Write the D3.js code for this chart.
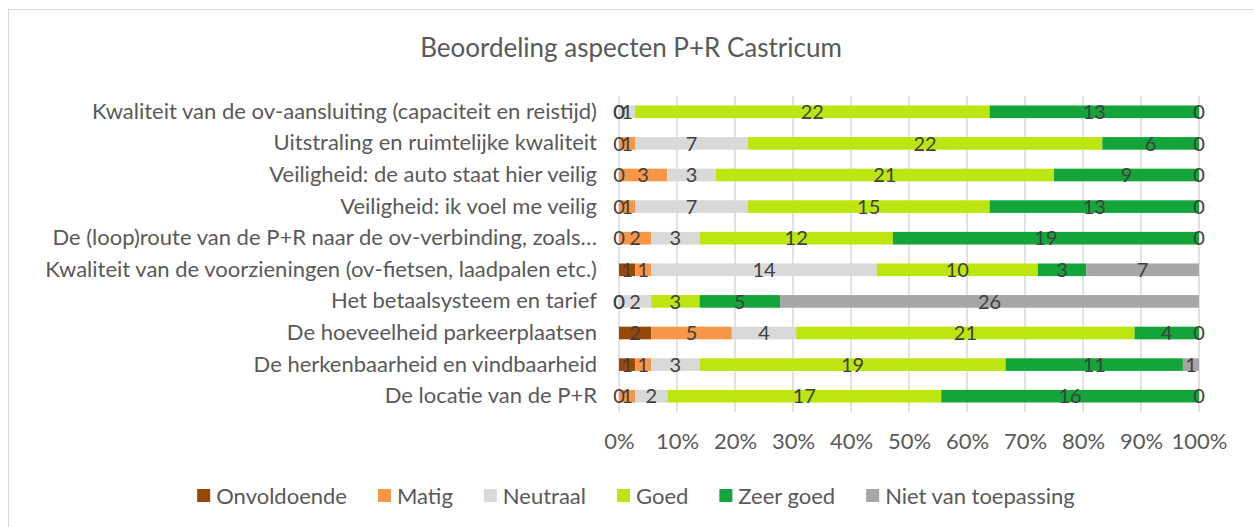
<!DOCTYPE html>
<html>
<head>
<meta charset="utf-8">
<script src="https://cdn.jsdelivr.net/npm/d3@7"></script>
<style>
  body { margin: 0; background: #fff; }
  text { font-family: Lato, "Open Sans", sans-serif; }
</style>
</head>
<body>
<div id="chart"></div>
<script>
// rows, top to bottom
const categories = [
  "Kwaliteit van de ov-aansluiting (capaciteit en reistijd)",
  "Uitstraling en ruimtelijke kwaliteit",
  "Veiligheid: de auto staat hier veilig",
  "Veiligheid: ik voel me veilig",
  "De (loop)route van de P+R naar de ov-verbinding, zoals\u2026",
  "Kwaliteit van de voorzieningen (ov-fietsen, laadpalen etc.)",
  "Het betaalsysteem en tarief",
  "De hoeveelheid parkeerplaatsen",
  "De herkenbaarheid en vindbaarheid",
  "De locatie van de P+R"
];
const onvoldoende = [0, 0, 0, 0, 0, 1, 0, 2, 1, 0];
const matig = [0, 1, 3, 1, 2, 1, 0, 5, 1, 1];
const neutraal = [1, 7, 3, 7, 3, 14, 2, 4, 3, 2];
const goed = [22, 22, 21, 15, 12, 10, 3, 21, 19, 17];
const zeerGoed = [13, 6, 9, 13, 19, 3, 5, 4, 11, 16];
const nietVanToepassing = [0, 0, 0, 0, 0, 7, 26, 0, 1, 0];

const seriesNames = ["Onvoldoende", "Matig", "Neutraal", "Goed", "Zeer goed", "Niet van toepassing"];
const seriesValues = [onvoldoende, matig, neutraal, goed, zeerGoed, nietVanToepassing];
const xTicks = [0, 0.1, 0.2, 0.3, 0.4, 0.5, 0.6, 0.7, 0.8, 0.9, 1];
const title = "Beoordeling aspecten P+R Castricum";

const colors = {
  "Onvoldoende": "#974706",
  "Matig": "#f79646",
  "Neutraal": "#d9d9d9",
  "Goed": "#bde50f",
  "Zeer goed": "#14a53a",
  "Niet van toepassing": "#a6a6a6"
};

const width = 1254;
const height = 527;

const table = categories.map((c, i) => {
  const row = { category: c };
  seriesNames.forEach((s, j) => { row[s] = seriesValues[j][i]; });
  return row;
});

const stacked = d3.stack()
  .keys(seriesNames)
  .offset(d3.stackOffsetExpand)(table);

const svg = d3.select("#chart")
  .append("svg")
  .attr("width", width)
  .attr("height", height);

svg.append("rect")
  .attr("x", 8.5).attr("y", 9.5)
  .attr("width", width).attr("height", height)
  .attr("fill", "#fff")
  .attr("stroke", "#d9d9d9");

const x = d3.scaleLinear().domain([0, 1]).range([619, 1199]);
const y = d3.scaleBand()
  .domain(categories)
  .range([96, 412])
  .paddingInner(0.6)
  .paddingOuter(0.3);

svg.append("text")
  .attr("x", 631).attr("y", 57)
  .attr("text-anchor", "middle")
  .attr("font-size", 26)
  .attr("fill", "#595959")
  .text(title);

// gridlines
svg.append("g")
  .selectAll("line")
  .data(xTicks)
  .join("line")
  .attr("x1", d => x(d)).attr("x2", d => x(d))
  .attr("y1", 96).attr("y2", 412)
  .attr("stroke", "#d9d9d9")
  .attr("stroke-width", 1.5);

// x axis
const xAxis = svg.append("g")
  .attr("transform", "translate(0,430)")
  .call(d3.axisBottom(x).tickValues(xTicks).tickFormat(d3.format(".0%")).tickSize(0));
xAxis.select(".domain").remove();
xAxis.selectAll("text")
  .attr("font-family", "Lato")
  .attr("font-size", 22)
  .attr("fill", "#595959");

// y axis labels
const yAxis = svg.append("g")
  .attr("transform", "translate(597,0)")
  .call(d3.axisLeft(y).tickSize(0).tickPadding(0));
yAxis.select(".domain").remove();
yAxis.selectAll("text")
  .attr("font-family", "Lato")
  .attr("font-size", 22)
  .attr("fill", "#595959");

// bars
const layers = svg.append("g")
  .selectAll("g")
  .data(stacked)
  .join("g")
  .attr("fill", d => colors[d.key]);

layers.selectAll("rect")
  .data(d => d)
  .join("rect")
  .attr("x", d => x(d[0]))
  .attr("width", d => x(d[1]) - x(d[0]))
  .attr("y", d => y(d.data.category))
  .attr("height", y.bandwidth());

// data labels
const labels = svg.append("g");
stacked.forEach(layer => {
  labels.selectAll(null)
    .data(layer)
    .join("text")
    .attr("x", d => (x(d[0]) + x(d[1])) / 2)
    .attr("y", d => y(d.data.category) + y.bandwidth() / 2)
    .attr("dy", "0.36em")
    .attr("text-anchor", "middle")
    .attr("font-size", 20)
    .attr("fill", "#404040")
    .text(d => d.data[layer.key]);
});

// legend
const legend = svg.append("g");
const items = legend.selectAll("g")
  .data(seriesNames)
  .join("g");
items.append("rect")
  .attr("width", 13).attr("height", 13)
  .attr("y", 489)
  .attr("fill", d => colors[d]);
items.append("text")
  .attr("x", 19).attr("y", 496)
  .attr("dy", "0.36em")
  .attr("font-size", 22)
  .attr("fill", "#595959")
  .text(d => d);

let offset = 0;
const positions = [];
items.each(function () {
  positions.push(offset);
  const w = d3.select(this).select("text").node().getComputedTextLength();
  offset += 19 + w + 31;
});
const legendWidth = offset - 31;
const legendStart = 636 - legendWidth / 2;
items.attr("transform", (d, i) => `translate(${legendStart + positions[i]},0)`);
</script>
</body>
</html>
